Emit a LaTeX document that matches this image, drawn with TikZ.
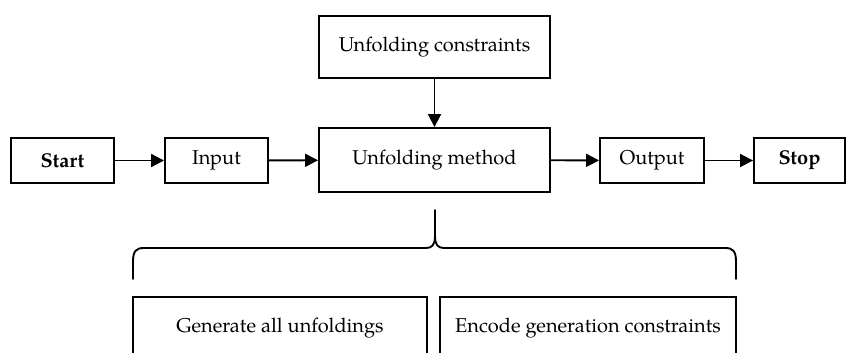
\documentclass[tikz,border=0pt]{standalone}
\usepackage{fontspec}
\setmainfont{TeX Gyre Pagella}
\usetikzlibrary{arrows.meta}
\tikzset{
  px/.style={x=0.5pt,y=-0.5pt},
  box/.style n args={2}{draw,line width=0.95pt,inner sep=0pt,
    minimum width=#1*0.5pt,minimum height=#2*0.5pt,font=\fontsize{10}{12}\selectfont},
  flow/.style={line width=0.95pt,-{Triangle[length=6.5pt,width=6.5pt]}},
  bracepath/.style={line width=0.95pt,line cap=round}
}
\begin{document}
\begin{tikzpicture}[px]
  \useasboundingbox (0,0) rectangle (846,353);
  \clip (0,0) rectangle (846,353);
  % main flow
  \node[box={103}{45}] (start) at (62.5,160.5) {\textbf{Start}};
  \node[box={103}{45}] (input) at (216.5,160.5) {Input};
  \node[box={231}{64}] (method) at (434.5,160) {Unfolding method};
  \node[box={231}{62}] (cons) at (434.5,47) {Unfolding constraints};
  \node[box={104}{45}] (output) at (652,160.5) {Output};
  \node[box={91}{45}] (stop) at (799.5,160.5) {\textbf{Stop}};
  % sub-steps of the method
  \node[box={294}{62}] (gen) at (280,328) {Generate all unfoldings};
  \node[box={296}{62}] (enc) at (588,328) {Encode generation constraints};
  % connectors
  \draw[flow] (start) -- (input);
  \draw[flow] (input) -- (method);
  \draw[flow] (method) -- (output);
  \draw[flow] (output) -- (stop);
  \draw[flow] (cons) -- (method);
  % brace grouping the two sub-steps
  \draw[bracepath] (133,279) -- (133,262) .. controls (133,251) and (136,248) .. (144,248)
    -- (426,248) .. controls (432,248) and (435,245) .. (435,236) -- (435,210);
  \draw[bracepath] (736,279) -- (736,262) .. controls (736,251) and (733,248) .. (725,248)
    -- (444,248) .. controls (438,248) and (435,245) .. (435,236);
\end{tikzpicture}
\end{document}
